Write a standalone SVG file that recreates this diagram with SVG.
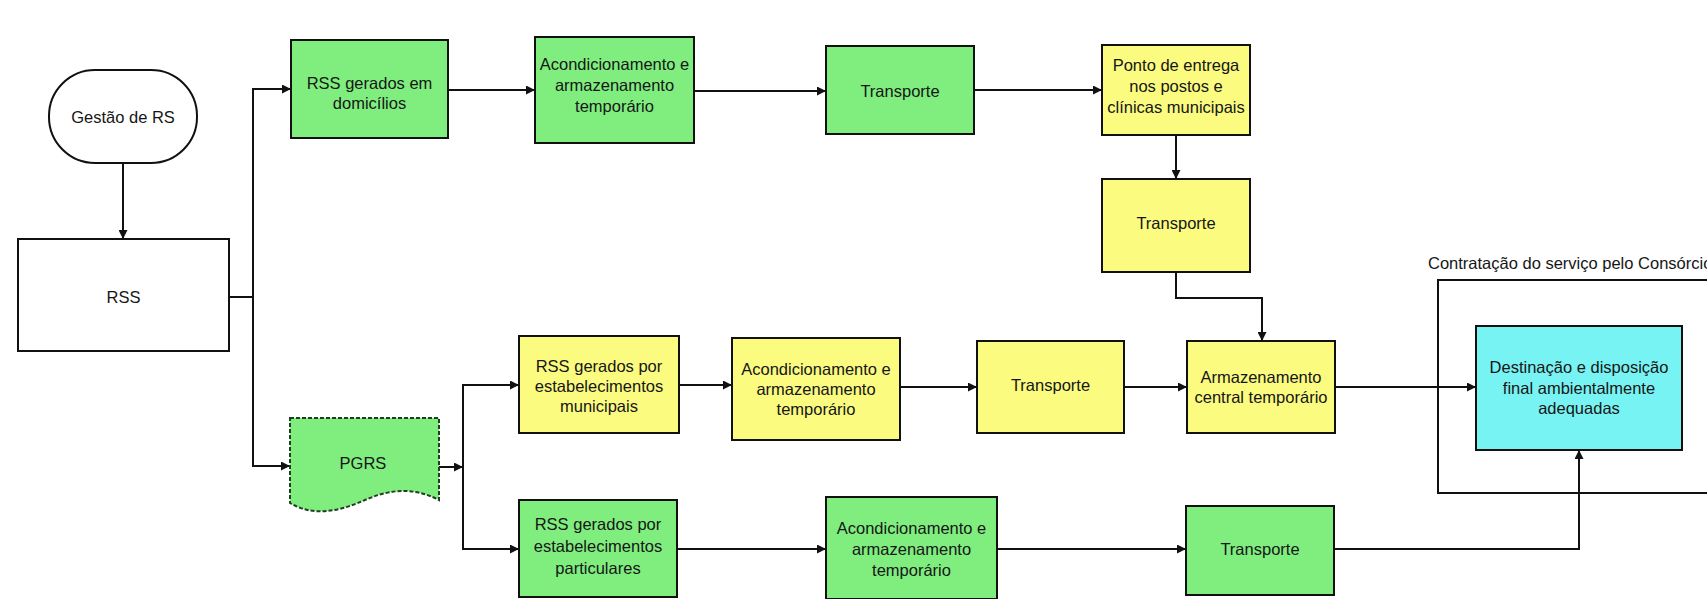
<svg xmlns="http://www.w3.org/2000/svg" width="1707" height="599" viewBox="0 0 1707 599">
  <style>
    .box { stroke: #111; stroke-width: 2; }
    .green { fill: #7fee7f; }
    .yellow { fill: #fbfb80; }
    .cyan { fill: #78f3f3; }
    .white { fill: #ffffff; }
    .lbl { font-family: "Liberation Sans", Arial, sans-serif; font-size: 16.5px; fill: #161616; text-anchor: middle; }
    .note { font-family: "Liberation Sans", Arial, sans-serif; font-size: 16.5px; fill: #161616; }
    .wire { fill: none; stroke: #111; stroke-width: 2; }
  </style>
  <defs>
    <marker id="arrow" viewBox="0 0 10 10" refX="10" refY="5" markerWidth="10" markerHeight="9" markerUnits="userSpaceOnUse" orient="auto">
      <path d="M0,0 L10,5 L0,10 z" fill="#111"/>
    </marker>
  </defs>

  <rect width="1707" height="599" fill="#ffffff"/>

  <!-- frame for the outsourced final stage -->
  <g id="contratacao">
    <rect x="1438" y="280" width="300" height="213" fill="none" stroke="#111" stroke-width="2"/>
    <text class="note" x="1428" y="269">Contratação do serviço pelo Consórcio</text>
  </g>

  <!-- connectors -->
  <g id="connectors">
    <path class="wire" d="M123,163 V239" marker-end="url(#arrow)"/>
    <path class="wire" d="M229,297 H253 V89 H291" marker-end="url(#arrow)"/>
    <path class="wire" d="M253,297 V466 H290" marker-end="url(#arrow)"/>
    <path class="wire" d="M448,90 H535" marker-end="url(#arrow)"/>
    <path class="wire" d="M694,91 H826" marker-end="url(#arrow)"/>
    <path class="wire" d="M974,90 H1102" marker-end="url(#arrow)"/>
    <path class="wire" d="M1176,135 V179" marker-end="url(#arrow)"/>
    <path class="wire" d="M1176,272 V298 H1262 V341" marker-end="url(#arrow)"/>
    <path class="wire" d="M439,467 H463" marker-end="url(#arrow)"/>
    <path class="wire" d="M463,467 V385 H519" marker-end="url(#arrow)"/>
    <path class="wire" d="M463,467 V549 H519" marker-end="url(#arrow)"/>
    <path class="wire" d="M679,385 H732" marker-end="url(#arrow)"/>
    <path class="wire" d="M900,387 H977" marker-end="url(#arrow)"/>
    <path class="wire" d="M1124,387 H1187" marker-end="url(#arrow)"/>
    <path class="wire" d="M1335,387 H1476" marker-end="url(#arrow)"/>
    <path class="wire" d="M677,549 H826" marker-end="url(#arrow)"/>
    <path class="wire" d="M997,549 H1186" marker-end="url(#arrow)"/>
    <path class="wire" d="M1334,549 H1579 V450" marker-end="url(#arrow)"/>
  </g>

  <g id="gestao">
    <rect class="box white" x="49" y="70" width="148" height="93" rx="46" ry="46"/>
    <text class="lbl" x="123" y="123">Gestão de RS</text>
  </g>

  <g id="rss">
    <rect class="box white" x="18" y="239" width="211" height="112"/>
    <text class="lbl" x="123.5" y="303">RSS</text>
  </g>

  <g id="domicilios">
    <rect class="box green" x="291" y="40" width="157" height="98"/>
    <text class="lbl" x="369.5" y="89">RSS gerados em</text>
    <text class="lbl" x="369.5" y="109">domicílios</text>
  </g>

  <g id="acond-domicilios">
    <rect class="box green" x="535" y="37" width="159" height="106"/>
    <text class="lbl" x="614.5" y="70">Acondicionamento e</text>
    <text class="lbl" x="614.5" y="91">armazenamento</text>
    <text class="lbl" x="614.5" y="112">temporário</text>
  </g>

  <g id="transporte-domicilios">
    <rect class="box green" x="826" y="46" width="148" height="88"/>
    <text class="lbl" x="900" y="97">Transporte</text>
  </g>

  <g id="ponto-entrega">
    <rect class="box yellow" x="1102" y="45" width="148" height="90"/>
    <text class="lbl" x="1176" y="71">Ponto de entrega</text>
    <text class="lbl" x="1176" y="92">nos postos e</text>
    <text class="lbl" x="1176" y="113">clínicas municipais</text>
  </g>

  <g id="transporte-ponto">
    <rect class="box yellow" x="1102" y="179" width="148" height="93"/>
    <text class="lbl" x="1176" y="229">Transporte</text>
  </g>

  <g id="pgrs">
    <path d="M290,418 H439 V500 C412,486 388,490 365,500 C342,510 315,518 290,503 Z" fill="#7fee7f" stroke="#1f3f1f" stroke-width="2" stroke-dasharray="4,2"/>
    <text class="lbl" x="363" y="469">PGRS</text>
  </g>

  <g id="municipais">
    <rect class="box yellow" x="519" y="336" width="160" height="97"/>
    <text class="lbl" x="599" y="372">RSS gerados por</text>
    <text class="lbl" x="599" y="392">estabelecimentos</text>
    <text class="lbl" x="599" y="412">municipais</text>
  </g>

  <g id="acond-municipais">
    <rect class="box yellow" x="732" y="338" width="168" height="102"/>
    <text class="lbl" x="816" y="375">Acondicionamento e</text>
    <text class="lbl" x="816" y="395">armazenamento</text>
    <text class="lbl" x="816" y="415">temporário</text>
  </g>

  <g id="transporte-municipais">
    <rect class="box yellow" x="977" y="341" width="147" height="92"/>
    <text class="lbl" x="1050.5" y="391">Transporte</text>
  </g>

  <g id="armazenamento-central">
    <rect class="box yellow" x="1187" y="341" width="148" height="92"/>
    <text class="lbl" x="1261" y="383">Armazenamento</text>
    <text class="lbl" x="1261" y="403">central temporário</text>
  </g>

  <g id="particulares">
    <rect class="box green" x="519" y="500" width="158" height="97"/>
    <text class="lbl" x="598" y="530">RSS gerados por</text>
    <text class="lbl" x="598" y="552">estabelecimentos</text>
    <text class="lbl" x="598" y="574">particulares</text>
  </g>

  <g id="acond-particulares">
    <rect class="box green" x="826" y="497" width="171" height="102"/>
    <text class="lbl" x="911.5" y="534">Acondicionamento e</text>
    <text class="lbl" x="911.5" y="555">armazenamento</text>
    <text class="lbl" x="911.5" y="576">temporário</text>
  </g>

  <g id="transporte-particulares">
    <rect class="box green" x="1186" y="506" width="148" height="89"/>
    <text class="lbl" x="1260" y="555">Transporte</text>
  </g>

  <g id="destinacao">
    <rect class="box cyan" x="1476" y="326" width="206" height="124"/>
    <text class="lbl" x="1579" y="373">Destinação e disposição</text>
    <text class="lbl" x="1579" y="394">final ambientalmente</text>
    <text class="lbl" x="1579" y="414">adequadas</text>
  </g>
</svg>
